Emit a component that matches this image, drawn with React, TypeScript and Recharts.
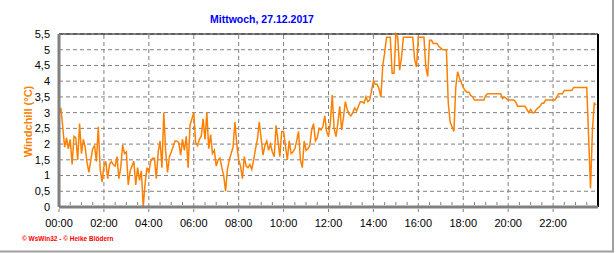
import { LineChart, Line, XAxis, YAxis, CartesianGrid, ReferenceLine } from 'recharts'

// Windchill in °C, one value every 5 minutes (12 per hour)
const night = [
  3.0, 3.15, 2.55, 1.9, 2.2, 1.85, 2.15, 1.35, 2.25, 2.2, 1.5, 2.65,
  1.7, 2.15, 1.9, 1.4, 1.1, 1.5, 1.85, 1.95, 1.45, 2.55, 1.2, 0.8,
  1.3, 1.45, 0.9, 1.35, 1.45, 1.35, 1.3, 1.6, 0.9, 1.25, 1.97, 1.7,
  1.75, 0.7, 1.15, 1.3, 1.45, 0.7, 1.25, 0.85, 1.15, 0.0, 0.75, 1.25,
  1.1, 1.45, 1.55, 1.55, 0.9, 1.75, 2.1, 1.25, 3.0, 1.75, 1.1, 1.6,
  1.75, 1.92, 2.1, 2.1, 2.05, 1.65, 2.15, 1.8, 2.25, 1.25, 2.6, 2.8,
]
const morning = [
  3.0, 2.05, 1.95, 2.15, 2.25, 2.8, 2.15, 3.0, 1.85, 2.3, 1.7, 1.8,
  1.3, 1.5, 1.55, 1.25, 1.0, 0.5, 1.2, 1.5, 1.7, 1.9, 2.7, 2.0,
  1.5, 1.3, 0.9, 1.6, 1.3, 1.25, 1.35, 1.2, 1.5, 1.85, 2.15, 2.7,
  2.2, 1.65, 1.95, 2.1, 1.8, 2.0, 1.75, 1.6, 2.6, 2.1, 1.6, 2.4,
  2.4, 1.95, 1.5, 2.1, 1.7, 1.75, 1.85, 2.1, 2.4, 1.5, 1.25, 2.1,
  1.8, 1.85, 1.95, 2.45, 2.65, 2.1, 2.2, 2.5, 2.45, 2.55, 2.9, 2.4,
]
const afternoon = [
  2.24, 2.7, 3.56, 2.5, 2.24, 2.65, 3.2, 2.45, 2.85, 3.35, 3.1, 2.95,
  2.9, 3.0, 3.15, 3.05, 3.2, 3.35, 3.35, 3.3, 3.5, 3.35, 3.4, 3.7,
  4.0, 3.9, 3.9, 3.75, 3.5, 4.5, 4.9, 5.4, 5.4, 5.4, 4.25, 4.25,
  5.5, 5.4, 4.35, 4.75, 5.4, 5.4, 5.4, 5.4, 5.4, 5.4, 4.7, 4.45,
  5.4, 5.4, 5.4, 5.4, 4.45, 4.15, 5.3, 5.3, 5.2, 5.2, 5.2, 5.1,
  5.05, 5.0, 5.0, 5.0, 3.3, 2.7, 2.55, 2.4, 3.8, 4.3, 4.1, 3.95,
]
const evening = [
  3.8, 3.7, 3.65, 3.65, 3.55, 3.5, 3.4, 3.4, 3.4, 3.4, 3.4, 3.4,
  3.55, 3.6, 3.6, 3.6, 3.6, 3.6, 3.6, 3.6, 3.6, 3.45, 3.5, 3.45,
  3.4, 3.4, 3.4, 3.4, 3.35, 3.2, 3.2, 3.2, 3.2, 3.2, 3.1, 3.0,
  3.1, 3.0, 3.0, 3.1, 3.15, 3.2, 3.3, 3.3, 3.4, 3.4, 3.4, 3.4,
  3.4, 3.4, 3.5, 3.6, 3.6, 3.6, 3.7, 3.7, 3.7, 3.7, 3.7, 3.8,
  3.8, 3.8, 3.8, 3.8, 3.8, 3.8, 3.8, 2.2, 0.6, 2.4, 3.3, 3.25,
]

const yTicks = [0, 0.5, 1, 1.5, 2, 2.5, 3, 3.5, 4, 4.5, 5, 5.5]
const hourLabels = ['00:00', '02:00', '04:00', '06:00', '08:00', '10:00', '12:00', '14:00', '16:00', '18:00', '20:00', '22:00']
const gridMinutes = [120, 240, 360, 480, 600, 720, 840, 960, 1080, 1200, 1320]

const data = [...night, ...morning, ...afternoon, ...evening].map((v, i) => ({ min: i * 5, value: v }))
const xTicks = Array.from({ length: 48 }, (_, i) => i * 30)

const ORANGE = '#ff8000'
const GRID = '#808080'
const FONT = '"Liberation Sans", Arial, sans-serif'

function TimeTick(props: { x?: number; y?: number; payload?: { value: number } }) {
  const { x = 0, y = 0, payload } = props
  if (!payload) return null
  const v = payload.value
  const major = v % 120 === 0
  return (
    <g>
      {major ? (
        <line x1={x} x2={x} y1={y + 2} y2={y + 5} stroke={GRID} />
      ) : (
        <line x1={x} x2={x} y1={y - 5} y2={y - 2} stroke={GRID} />
      )}
      {major && (
        <text x={x} y={y + 19.5} textAnchor="middle" fontSize={11} fontFamily={FONT} fill="#000">
          {hourLabels[v / 120]}
        </text>
      )}
    </g>
  )
}

export default function App() {
  return (
    <div style={{ position: 'absolute', left: 0, top: 0, width: 616, height: 253, background: '#fff' }}>
      <LineChart width={616} height={253} data={data} margin={{ top: 34, right: 18, left: 19, bottom: 16 }}>
        <CartesianGrid vertical={false} stroke={GRID} strokeDasharray="4 3" />
        {gridMinutes.map(m => (
          <ReferenceLine key={m} x={m} stroke={GRID} strokeDasharray="4 3" />
        ))}
        <ReferenceLine y={5.5} stroke="#000" />
        <ReferenceLine x={1440} stroke="#000" strokeWidth={2} />
        <XAxis
          dataKey="min"
          type="number"
          domain={[0, 1440]}
          ticks={xTicks}
          interval={0}
          height={30}
          tickSize={0}
          tickMargin={0}
          tickLine={false}
          axisLine={{ stroke: GRID, strokeWidth: 3 }}
          tick={<TimeTick />}
        />
        <YAxis
          type="number"
          domain={[0, 5.5]}
          ticks={yTicks}
          interval={0}
          width={40}
          tickSize={0}
          tickMargin={9}
          tickLine={false}
          axisLine={{ stroke: GRID, strokeWidth: 3 }}
          tick={{ fill: '#000', fontSize: 11, fontFamily: FONT }}
          tickFormatter={v => String(v).replace('.', ',')}
        />
        <Line
          type="linear"
          dataKey="value"
          stroke={ORANGE}
          strokeWidth={1.5}
          dot={false}
          isAnimationActive={false}
        />
      </LineChart>
      <svg width={616} height={253} style={{ position: 'absolute', left: 0, top: 0, pointerEvents: 'none' }}>
        <text x={262} y={22.5} textAnchor="middle" fontSize={10.5} fontWeight="bold" fontFamily={FONT} fill="#0000ff">
          Mittwoch, 27.12.2017
        </text>
        <text
          x={32}
          y={121.5}
          transform="rotate(-90 32 121.5)"
          textAnchor="middle"
          fontSize={11}
          fontWeight="bold"
          fontFamily={FONT}
          fill={ORANGE}
        >
          Windchill (°C)
        </text>
        <text x={22} y={240.5} fontSize={6.5} fontWeight="bold" fontFamily={FONT} fill="#ff0000">
          © WsWin32 - © Heike Blödern
        </text>
        <line x1={613} x2={613} y1={0} y2={252} stroke="#a0a0a0" strokeWidth={2} />
        <line x1={0} x2={614} y1={251.5} y2={251.5} stroke="#a0a0a0" strokeWidth={2} />
      </svg>
    </div>
  )
}
